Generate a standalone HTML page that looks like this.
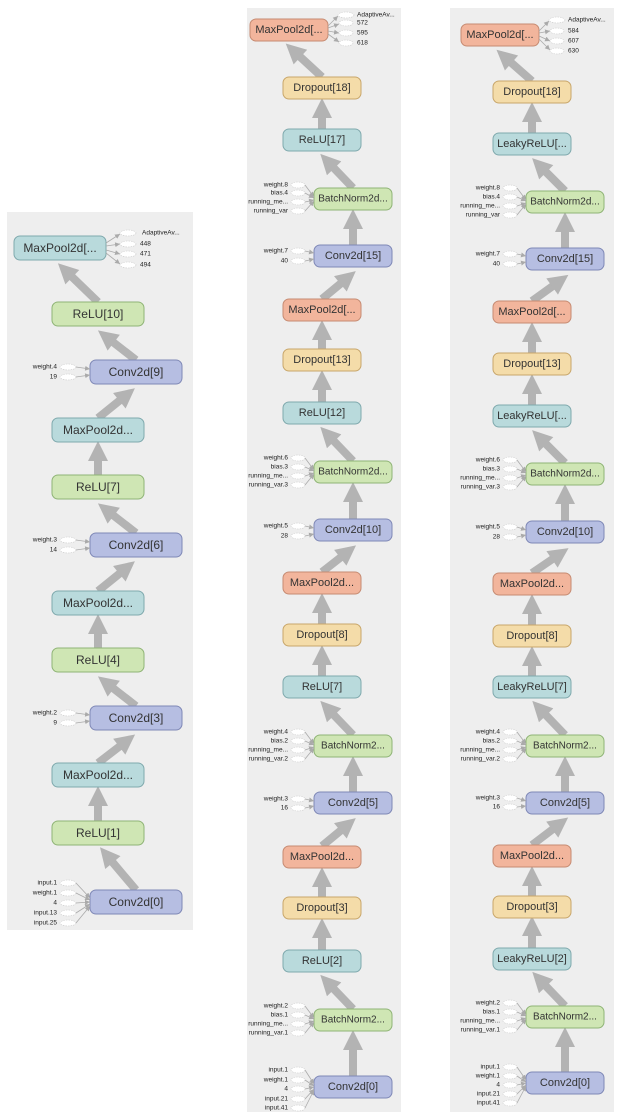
<!DOCTYPE html>
<html><head><meta charset="utf-8"><style>
html,body{margin:0;padding:0;background:#fff;width:626px;height:1118px;overflow:hidden}
svg text{font-family:"Liberation Sans",sans-serif}
.n{font-size:12px;fill:#333;text-anchor:middle;dominant-baseline:central}
.m{font-size:11px;fill:#333;text-anchor:middle;dominant-baseline:central}
.l{font-size:6.5px;fill:#222;text-anchor:end;dominant-baseline:central}
.r{font-size:6.5px;fill:#222;text-anchor:start;dominant-baseline:central}
.t{fill:#b9dadc;stroke:#7fa9ad}.g{fill:#cfe6b4;stroke:#8fb476}.b{fill:#b6bee2;stroke:#7f88b6}.o{fill:#f2b59c;stroke:#c68b72}.y{fill:#f4dca9;stroke:#c8a66a}
.a{stroke:#b3b3b3;stroke-width:8;fill:none;marker-end:url(#h)}
.s{stroke:#aaa;stroke-width:0.8;fill:none;marker-end:url(#sh)}
.e{fill:#fff;stroke:#ccc;stroke-width:0.6;stroke-dasharray:1.5 1}
</style></head><body>
<svg width="626" height="1118" xmlns="http://www.w3.org/2000/svg">
<defs>
<marker id="h" viewBox="0 0 10 10" refX="3" refY="5" markerWidth="24" markerHeight="20" markerUnits="userSpaceOnUse" orient="auto"><path d="M0,0L10,5L0,10z" fill="#b3b3b3"/></marker>
<marker id="sh" viewBox="0 0 10 10" refX="10" refY="5" markerWidth="5" markerHeight="5" markerUnits="userSpaceOnUse" orient="auto"><path d="M0,0L10,5L0,10z" fill="#aaa"/></marker>
</defs>
<rect x="7" y="212" width="186" height="718" fill="#eeeeee"/>
<rect x="247" y="8" width="154" height="1104" fill="#eeeeee"/>
<rect x="450" y="8" width="164" height="1104" fill="#eeeeee"/>

<!-- Panel 1 arrows -->
<path class="a" d="M136 890L109 858"/>
<path class="a" d="M98 821L98 800"/>
<path class="a" d="M98 763L124 743"/>
<path class="a" d="M136 706L109 685"/>
<path class="a" d="M98 648L98 628"/>
<path class="a" d="M98 591L124 570"/>
<path class="a" d="M136 533L109 512"/>
<path class="a" d="M98 475L98 455"/>
<path class="a" d="M98 418L124 397"/>
<path class="a" d="M136 360L109 339"/>
<path class="a" d="M98 302L68 273"/>

<!-- Panel 1 nodes -->
<rect class="t" x="14" y="236" width="92" height="24" rx="6"/><text class="n" x="60" y="248">MaxPool2d[...</text>
<rect class="g" x="52" y="302" width="92" height="24" rx="6"/><text class="n" x="98" y="314">ReLU[10]</text>
<rect class="b" x="90" y="360" width="92" height="24" rx="6"/><text class="n" x="136" y="372">Conv2d[9]</text>
<rect class="t" x="52" y="418" width="92" height="24" rx="6"/><text class="n" x="98" y="430">MaxPool2d...</text>
<rect class="g" x="52" y="475" width="92" height="24" rx="6"/><text class="n" x="98" y="487">ReLU[7]</text>
<rect class="b" x="90" y="533" width="92" height="24" rx="6"/><text class="n" x="136" y="545">Conv2d[6]</text>
<rect class="t" x="52" y="591" width="92" height="24" rx="6"/><text class="n" x="98" y="603">MaxPool2d...</text>
<rect class="g" x="52" y="648" width="92" height="24" rx="6"/><text class="n" x="98" y="660">ReLU[4]</text>
<rect class="b" x="90" y="706" width="92" height="24" rx="6"/><text class="n" x="136" y="718">Conv2d[3]</text>
<rect class="t" x="52" y="763" width="92" height="24" rx="6"/><text class="n" x="98" y="775">MaxPool2d...</text>
<rect class="g" x="52" y="821" width="92" height="24" rx="6"/><text class="n" x="98" y="833">ReLU[1]</text>
<rect class="b" x="90" y="890" width="92" height="24" rx="6"/><text class="n" x="136" y="902">Conv2d[0]</text>

<!-- Panel 1 side labels -->
<ellipse class="e" cx="128" cy="233" rx="8" ry="3"/><text class="r" x="142" y="233">AdaptiveAv...</text><path class="s" d="M106 243L120 234"/>
<ellipse class="e" cx="128" cy="244" rx="8" ry="3"/><text class="r" x="140" y="244">448</text><path class="s" d="M106 246L120 244"/>
<ellipse class="e" cx="128" cy="254" rx="8" ry="3"/><text class="r" x="140" y="254">471</text><path class="s" d="M106 250L120 254"/>
<ellipse class="e" cx="128" cy="265" rx="8" ry="3"/><text class="r" x="140" y="265">494</text><path class="s" d="M106 253L120 264"/>
<ellipse class="e" cx="68" cy="367" rx="8" ry="3"/><text class="l" x="57" y="367">weight.4</text><path class="s" d="M76 367L90 369"/>
<ellipse class="e" cx="68" cy="377" rx="8" ry="3"/><text class="l" x="57" y="377">19</text><path class="s" d="M76 377L90 375"/>
<ellipse class="e" cx="68" cy="540" rx="8" ry="3"/><text class="l" x="57" y="540">weight.3</text><path class="s" d="M76 540L90 542"/>
<ellipse class="e" cx="68" cy="550" rx="8" ry="3"/><text class="l" x="57" y="550">14</text><path class="s" d="M76 550L90 548"/>
<ellipse class="e" cx="68" cy="713" rx="8" ry="3"/><text class="l" x="57" y="713">weight.2</text><path class="s" d="M76 713L90 715"/>
<ellipse class="e" cx="68" cy="723" rx="8" ry="3"/><text class="l" x="57" y="723">9</text><path class="s" d="M76 723L90 721"/>
<ellipse class="e" cx="68" cy="883" rx="8" ry="3"/><text class="l" x="57" y="883">input.1</text><path class="s" d="M76 883L90 898"/>
<ellipse class="e" cx="68" cy="893" rx="8" ry="3"/><text class="l" x="57" y="893">weight.1</text><path class="s" d="M76 893L90 900"/>
<ellipse class="e" cx="68" cy="903" rx="8" ry="3"/><text class="l" x="57" y="903">4</text><path class="s" d="M76 903L90 902"/>
<ellipse class="e" cx="68" cy="913" rx="8" ry="3"/><text class="l" x="57" y="913">input.13</text><path class="s" d="M76 913L90 904"/>
<ellipse class="e" cx="68" cy="923" rx="8" ry="3"/><text class="l" x="57" y="923">input.25</text><path class="s" d="M76 923L90 906"/>

<!-- Panel 2 arrows -->
<path class="a" d="M353 1076L353 1044"/>
<path class="a" d="M353 1009L330 985"/>
<path class="a" d="M322 950L322 932"/>
<path class="a" d="M322 897L322 881"/>
<path class="a" d="M322 846L345 827"/>
<path class="a" d="M353 792L353 770"/>
<path class="a" d="M353 735L330 711"/>
<path class="a" d="M322 676L322 659"/>
<path class="a" d="M322 624L322 607"/>
<path class="a" d="M322 572L345 554"/>
<path class="a" d="M353 519L353 496"/>
<path class="a" d="M353 461L330 437"/>
<path class="a" d="M322 402L322 384"/>
<path class="a" d="M322 349L322 334"/>
<path class="a" d="M322 299L345 280"/>
<path class="a" d="M353 245L353 223"/>
<path class="a" d="M353 188L330 164"/>
<path class="a" d="M322 129L322 112"/>
<path class="a" d="M322 77L296 53"/>

<!-- Panel 2 nodes -->
<rect class="o" x="250" y="19" width="78" height="22" rx="6"/><text class="m" x="289" y="30">MaxPool2d[...</text>
<rect class="y" x="283" y="77" width="78" height="22" rx="6"/><text class="m" x="322" y="88">Dropout[18]</text>
<rect class="t" x="283" y="129" width="78" height="22" rx="6"/><text class="m" x="322" y="140">ReLU[17]</text>
<rect class="g" x="314" y="188" width="78" height="22" rx="6"/><text class="m" x="353" y="199" style="font-size:10px">BatchNorm2d...</text>
<rect class="b" x="314" y="245" width="78" height="22" rx="6"/><text class="m" x="353" y="256">Conv2d[15]</text>
<rect class="o" x="283" y="299" width="78" height="22" rx="6"/><text class="m" x="322" y="310">MaxPool2d[...</text>
<rect class="y" x="283" y="349" width="78" height="22" rx="6"/><text class="m" x="322" y="360">Dropout[13]</text>
<rect class="t" x="283" y="402" width="78" height="22" rx="6"/><text class="m" x="322" y="413">ReLU[12]</text>
<rect class="g" x="314" y="461" width="78" height="22" rx="6"/><text class="m" x="353" y="472" style="font-size:10px">BatchNorm2d...</text>
<rect class="b" x="314" y="519" width="78" height="22" rx="6"/><text class="m" x="353" y="530">Conv2d[10]</text>
<rect class="o" x="283" y="572" width="78" height="22" rx="6"/><text class="m" x="322" y="583">MaxPool2d...</text>
<rect class="y" x="283" y="624" width="78" height="22" rx="6"/><text class="m" x="322" y="635">Dropout[8]</text>
<rect class="t" x="283" y="676" width="78" height="22" rx="6"/><text class="m" x="322" y="687">ReLU[7]</text>
<rect class="g" x="314" y="735" width="78" height="22" rx="6"/><text class="m" x="353" y="746" style="font-size:10px">BatchNorm2...</text>
<rect class="b" x="314" y="792" width="78" height="22" rx="6"/><text class="m" x="353" y="803">Conv2d[5]</text>
<rect class="o" x="283" y="846" width="78" height="22" rx="6"/><text class="m" x="322" y="857">MaxPool2d...</text>
<rect class="y" x="283" y="897" width="78" height="22" rx="6"/><text class="m" x="322" y="908">Dropout[3]</text>
<rect class="t" x="283" y="950" width="78" height="22" rx="6"/><text class="m" x="322" y="961">ReLU[2]</text>
<rect class="g" x="314" y="1009" width="78" height="22" rx="6"/><text class="m" x="353" y="1020" style="font-size:10px">BatchNorm2...</text>
<rect class="b" x="314" y="1076" width="78" height="22" rx="6"/><text class="m" x="353" y="1087">Conv2d[0]</text>

<!-- Panel 2 side labels -->
<ellipse class="e" cx="346" cy="15" rx="8" ry="3"/><text class="r" x="357" y="15">AdaptiveAv...</text><path class="s" d="M328 26L338 16"/>
<ellipse class="e" cx="346" cy="23" rx="7" ry="3"/><text class="r" x="357" y="23">572</text><path class="s" d="M328 28L339 24"/>
<ellipse class="e" cx="346" cy="33" rx="7" ry="3"/><text class="r" x="357" y="33">595</text><path class="s" d="M328 31L339 33"/>
<ellipse class="e" cx="346" cy="43" rx="7" ry="3"/><text class="r" x="357" y="43">618</text><path class="s" d="M328 34L339 42"/>

<ellipse class="e" cx="298" cy="185" rx="7" ry="3"/><text class="l" x="288" y="185">weight.8</text><path class="s" d="M305 185L314 197"/>
<ellipse class="e" cx="298" cy="193" rx="7" ry="3"/><text class="l" x="288" y="193">bias.4</text><path class="s" d="M305 193L314 198"/>
<ellipse class="e" cx="298" cy="202" rx="7" ry="3"/><text class="l" x="288" y="202">running_me...</text><path class="s" d="M305 202L314 200"/>
<ellipse class="e" cx="298" cy="211" rx="7" ry="3"/><text class="l" x="288" y="211">running_var</text><path class="s" d="M305 211L314 201"/>
<ellipse class="e" cx="298" cy="251" rx="7" ry="3"/><text class="l" x="288" y="251">weight.7</text><path class="s" d="M305 251L314 253"/>
<ellipse class="e" cx="298" cy="261" rx="7" ry="3"/><text class="l" x="288" y="261">40</text><path class="s" d="M305 261L314 259"/>

<ellipse class="e" cx="298" cy="458" rx="7" ry="3"/><text class="l" x="288" y="458">weight.6</text><path class="s" d="M305 458L314 470"/>
<ellipse class="e" cx="298" cy="467" rx="7" ry="3"/><text class="l" x="288" y="467">bias.3</text><path class="s" d="M305 467L314 471"/>
<ellipse class="e" cx="298" cy="476" rx="7" ry="3"/><text class="l" x="288" y="476">running_me...</text><path class="s" d="M305 476L314 473"/>
<ellipse class="e" cx="298" cy="485" rx="7" ry="3"/><text class="l" x="288" y="485">running_var.3</text><path class="s" d="M305 485L314 474"/>
<ellipse class="e" cx="298" cy="526" rx="7" ry="3"/><text class="l" x="288" y="526">weight.5</text><path class="s" d="M305 526L314 528"/>
<ellipse class="e" cx="298" cy="536" rx="7" ry="3"/><text class="l" x="288" y="536">28</text><path class="s" d="M305 536L314 534"/>

<ellipse class="e" cx="298" cy="732" rx="7" ry="3"/><text class="l" x="288" y="732">weight.4</text><path class="s" d="M305 732L314 744"/>
<ellipse class="e" cx="298" cy="741" rx="7" ry="3"/><text class="l" x="288" y="741">bias.2</text><path class="s" d="M305 741L314 745"/>
<ellipse class="e" cx="298" cy="750" rx="7" ry="3"/><text class="l" x="288" y="750">running_me...</text><path class="s" d="M305 750L314 747"/>
<ellipse class="e" cx="298" cy="759" rx="7" ry="3"/><text class="l" x="288" y="759">running_var.2</text><path class="s" d="M305 759L314 748"/>
<ellipse class="e" cx="298" cy="799" rx="7" ry="3"/><text class="l" x="288" y="799">weight.3</text><path class="s" d="M305 799L314 801"/>
<ellipse class="e" cx="298" cy="808" rx="7" ry="3"/><text class="l" x="288" y="808">16</text><path class="s" d="M305 808L314 806"/>

<ellipse class="e" cx="298" cy="1006" rx="7" ry="3"/><text class="l" x="288" y="1006">weight.2</text><path class="s" d="M305 1006L314 1018"/>
<ellipse class="e" cx="298" cy="1015" rx="7" ry="3"/><text class="l" x="288" y="1015">bias.1</text><path class="s" d="M305 1015L314 1019"/>
<ellipse class="e" cx="298" cy="1024" rx="7" ry="3"/><text class="l" x="288" y="1024">running_me...</text><path class="s" d="M305 1024L314 1021"/>
<ellipse class="e" cx="298" cy="1033" rx="7" ry="3"/><text class="l" x="288" y="1033">running_var.1</text><path class="s" d="M305 1033L314 1022"/>
<ellipse class="e" cx="298" cy="1070" rx="7" ry="3"/><text class="l" x="288" y="1070">input.1</text><path class="s" d="M305 1070L314 1084"/>
<ellipse class="e" cx="298" cy="1080" rx="7" ry="3"/><text class="l" x="288" y="1080">weight.1</text><path class="s" d="M305 1080L314 1086"/>
<ellipse class="e" cx="298" cy="1089" rx="7" ry="3"/><text class="l" x="288" y="1089">4</text><path class="s" d="M305 1089L314 1087"/>
<ellipse class="e" cx="298" cy="1099" rx="7" ry="3"/><text class="l" x="288" y="1099">input.21</text><path class="s" d="M305 1099L314 1089"/>
<ellipse class="e" cx="298" cy="1108" rx="7" ry="3"/><text class="l" x="288" y="1108">input.41</text><path class="s" d="M305 1108L314 1090"/>

<!-- Panel 3 arrows -->
<path class="a" d="M565 1072L565 1041"/>
<path class="a" d="M565 1006L542 982"/>
<path class="a" d="M532 948L532 930"/>
<path class="a" d="M532 896L532 880"/>
<path class="a" d="M532 845L557 826"/>
<path class="a" d="M565 792L565 770"/>
<path class="a" d="M565 735L542 711"/>
<path class="a" d="M532 676L532 660"/>
<path class="a" d="M532 625L532 608"/>
<path class="a" d="M532 573L557 556"/>
<path class="a" d="M565 521L565 498"/>
<path class="a" d="M565 463L542 440"/>
<path class="a" d="M532 405L532 388"/>
<path class="a" d="M532 353L532 336"/>
<path class="a" d="M532 301L557 283"/>
<path class="a" d="M565 248L565 226"/>
<path class="a" d="M565 191L542 168"/>
<path class="a" d="M532 133L532 116"/>
<path class="a" d="M532 81L507 59"/>

<!-- Panel 3 nodes -->
<rect class="o" x="461" y="24" width="78" height="22" rx="6"/><text class="m" x="500" y="35">MaxPool2d[...</text>
<rect class="y" x="493" y="81" width="78" height="22" rx="6"/><text class="m" x="532" y="92">Dropout[18]</text>
<rect class="t" x="493" y="133" width="78" height="22" rx="6"/><text class="m" x="532" y="144">LeakyReLU[...</text>
<rect class="g" x="526" y="191" width="78" height="22" rx="6"/><text class="m" x="565" y="202" style="font-size:10px">BatchNorm2d...</text>
<rect class="b" x="526" y="248" width="78" height="22" rx="6"/><text class="m" x="565" y="259">Conv2d[15]</text>
<rect class="o" x="493" y="301" width="78" height="22" rx="6"/><text class="m" x="532" y="312">MaxPool2d[...</text>
<rect class="y" x="493" y="353" width="78" height="22" rx="6"/><text class="m" x="532" y="364">Dropout[13]</text>
<rect class="t" x="493" y="405" width="78" height="22" rx="6"/><text class="m" x="532" y="416">LeakyReLU[...</text>
<rect class="g" x="526" y="463" width="78" height="22" rx="6"/><text class="m" x="565" y="474" style="font-size:10px">BatchNorm2d...</text>
<rect class="b" x="526" y="521" width="78" height="22" rx="6"/><text class="m" x="565" y="532">Conv2d[10]</text>
<rect class="o" x="493" y="573" width="78" height="22" rx="6"/><text class="m" x="532" y="584">MaxPool2d...</text>
<rect class="y" x="493" y="625" width="78" height="22" rx="6"/><text class="m" x="532" y="636">Dropout[8]</text>
<rect class="t" x="493" y="676" width="78" height="22" rx="6"/><text class="m" x="532" y="687">LeakyReLU[7]</text>
<rect class="g" x="526" y="735" width="78" height="22" rx="6"/><text class="m" x="565" y="746" style="font-size:10px">BatchNorm2...</text>
<rect class="b" x="526" y="792" width="78" height="22" rx="6"/><text class="m" x="565" y="803">Conv2d[5]</text>
<rect class="o" x="493" y="845" width="78" height="22" rx="6"/><text class="m" x="532" y="856">MaxPool2d...</text>
<rect class="y" x="493" y="896" width="78" height="22" rx="6"/><text class="m" x="532" y="907">Dropout[3]</text>
<rect class="t" x="493" y="948" width="78" height="22" rx="6"/><text class="m" x="532" y="959">LeakyReLU[2]</text>
<rect class="g" x="526" y="1006" width="78" height="22" rx="6"/><text class="m" x="565" y="1017" style="font-size:10px">BatchNorm2...</text>
<rect class="b" x="526" y="1072" width="78" height="22" rx="6"/><text class="m" x="565" y="1083">Conv2d[0]</text>

<!-- Panel 3 side labels -->
<ellipse class="e" cx="557" cy="20" rx="8" ry="3"/><text class="r" x="568" y="20">AdaptiveAv...</text><path class="s" d="M539 31L549 21"/>
<ellipse class="e" cx="557" cy="31" rx="7" ry="3"/><text class="r" x="568" y="31">584</text><path class="s" d="M539 33L550 31"/>
<ellipse class="e" cx="557" cy="41" rx="7" ry="3"/><text class="r" x="568" y="41">607</text><path class="s" d="M539 36L550 41"/>
<ellipse class="e" cx="557" cy="51" rx="7" ry="3"/><text class="r" x="568" y="51">630</text><path class="s" d="M539 39L550 50"/>

<ellipse class="e" cx="510" cy="188" rx="7" ry="3"/><text class="l" x="500" y="188">weight.8</text><path class="s" d="M517 188L526 200"/>
<ellipse class="e" cx="510" cy="197" rx="7" ry="3"/><text class="l" x="500" y="197">bias.4</text><path class="s" d="M517 197L526 201"/>
<ellipse class="e" cx="510" cy="206" rx="7" ry="3"/><text class="l" x="500" y="206">running_me...</text><path class="s" d="M517 206L526 203"/>
<ellipse class="e" cx="510" cy="215" rx="7" ry="3"/><text class="l" x="500" y="215">running_var</text><path class="s" d="M517 215L526 204"/>
<ellipse class="e" cx="510" cy="254" rx="7" ry="3"/><text class="l" x="500" y="254">weight.7</text><path class="s" d="M517 254L526 256"/>
<ellipse class="e" cx="510" cy="264" rx="7" ry="3"/><text class="l" x="500" y="264">40</text><path class="s" d="M517 264L526 262"/>

<ellipse class="e" cx="510" cy="460" rx="7" ry="3"/><text class="l" x="500" y="460">weight.6</text><path class="s" d="M517 460L526 472"/>
<ellipse class="e" cx="510" cy="469" rx="7" ry="3"/><text class="l" x="500" y="469">bias.3</text><path class="s" d="M517 469L526 473"/>
<ellipse class="e" cx="510" cy="478" rx="7" ry="3"/><text class="l" x="500" y="478">running_me...</text><path class="s" d="M517 478L526 475"/>
<ellipse class="e" cx="510" cy="487" rx="7" ry="3"/><text class="l" x="500" y="487">running_var.3</text><path class="s" d="M517 487L526 476"/>
<ellipse class="e" cx="510" cy="527" rx="7" ry="3"/><text class="l" x="500" y="527">weight.5</text><path class="s" d="M517 527L526 530"/>
<ellipse class="e" cx="510" cy="537" rx="7" ry="3"/><text class="l" x="500" y="537">28</text><path class="s" d="M517 537L526 535"/>

<ellipse class="e" cx="510" cy="732" rx="7" ry="3"/><text class="l" x="500" y="732">weight.4</text><path class="s" d="M517 732L526 744"/>
<ellipse class="e" cx="510" cy="741" rx="7" ry="3"/><text class="l" x="500" y="741">bias.2</text><path class="s" d="M517 741L526 745"/>
<ellipse class="e" cx="510" cy="750" rx="7" ry="3"/><text class="l" x="500" y="750">running_me...</text><path class="s" d="M517 750L526 747"/>
<ellipse class="e" cx="510" cy="759" rx="7" ry="3"/><text class="l" x="500" y="759">running_var.2</text><path class="s" d="M517 759L526 748"/>
<ellipse class="e" cx="510" cy="798" rx="7" ry="3"/><text class="l" x="500" y="798">weight.3</text><path class="s" d="M517 798L526 801"/>
<ellipse class="e" cx="510" cy="807" rx="7" ry="3"/><text class="l" x="500" y="807">16</text><path class="s" d="M517 807L526 806"/>

<ellipse class="e" cx="510" cy="1003" rx="7" ry="3"/><text class="l" x="500" y="1003">weight.2</text><path class="s" d="M517 1003L526 1015"/>
<ellipse class="e" cx="510" cy="1012" rx="7" ry="3"/><text class="l" x="500" y="1012">bias.1</text><path class="s" d="M517 1012L526 1016"/>
<ellipse class="e" cx="510" cy="1021" rx="7" ry="3"/><text class="l" x="500" y="1021">running_me...</text><path class="s" d="M517 1021L526 1018"/>
<ellipse class="e" cx="510" cy="1030" rx="7" ry="3"/><text class="l" x="500" y="1030">running_var.1</text><path class="s" d="M517 1030L526 1019"/>
<ellipse class="e" cx="510" cy="1067" rx="7" ry="3"/><text class="l" x="500" y="1067">input.1</text><path class="s" d="M517 1067L526 1080"/>
<ellipse class="e" cx="510" cy="1076" rx="7" ry="3"/><text class="l" x="500" y="1076">weight.1</text><path class="s" d="M517 1076L526 1082"/>
<ellipse class="e" cx="510" cy="1085" rx="7" ry="3"/><text class="l" x="500" y="1085">4</text><path class="s" d="M517 1085L526 1083"/>
<ellipse class="e" cx="510" cy="1094" rx="7" ry="3"/><text class="l" x="500" y="1094">input.21</text><path class="s" d="M517 1094L526 1085"/>
<ellipse class="e" cx="510" cy="1103" rx="7" ry="3"/><text class="l" x="500" y="1103">input.41</text><path class="s" d="M517 1103L526 1086"/>
</svg>
</body></html>
